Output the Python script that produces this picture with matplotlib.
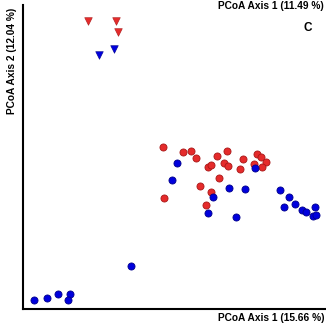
import matplotlib
matplotlib.use('Agg')
import matplotlib.pyplot as plt
import numpy as np

RED = '#E52B2B'; RED_EDGE = '#A81818'
BLUE = '#0000DD'; BLUE_EDGE = '#00008A'
plt.rcParams.update({'font.family': ['Liberation Sans', 'DejaVu Sans']})

# PCoA scores (axis 1, axis 2), arbitrary units
red_circ_x = [1.40, 1.60, 1.68, 1.73, 1.94, 2.04, 1.85, 1.88, 2.01, 2.05, 2.20, 2.17,
              2.34, 2.38, 2.43, 2.31, 2.39, 1.96, 1.77, 1.88, 1.41, 1.83]
red_circ_y = [1.62, 1.57, 1.58, 1.51, 1.53, 1.58, 1.42, 1.44, 1.46, 1.43, 1.50, 1.40,
              1.55, 1.52, 1.47, 1.45, 1.42, 1.31, 1.23, 1.17, 1.11, 1.04]
blue_circ_x = [1.54, 1.49, 2.32, 2.06, 2.22, 1.90, 1.85, 2.13, 2.57, 2.66, 2.72, 2.61,
               2.79, 2.83, 2.92, 2.90, 2.93, 0.11, 0.24, 0.35, 0.47, 0.45, 1.08]
blue_circ_y = [1.46, 1.29, 1.41, 1.21, 1.20, 1.12, 0.96, 0.92, 1.19, 1.12, 1.05, 1.02,
               0.99, 0.97, 1.02, 0.93, 0.94, 0.09, 0.11, 0.15, 0.15, 0.09, 0.43]
red_tri_x = [0.65, 0.93, 0.95]
red_tri_y = [2.88, 2.88, 2.77]
blue_tri_x = [0.76, 0.91]
blue_tri_y = [2.54, 2.60]

fig = plt.figure(figsize=(3.26, 3.26), dpi=100)
ax = fig.add_axes([0.0706, 0.052, 0.929, 0.933])

ax.scatter(red_circ_x, red_circ_y, s=26, c=RED, edgecolors=RED_EDGE, linewidths=0.6, zorder=3)
ax.scatter(blue_circ_x, blue_circ_y, s=26, c=BLUE, edgecolors=BLUE_EDGE, linewidths=0.6, zorder=3)
ax.scatter(red_tri_x, red_tri_y, s=30, marker='v', c=RED, edgecolors=RED_EDGE, linewidths=0.4, zorder=3)
ax.scatter(blue_tri_x, blue_tri_y, s=30, marker='v', c=BLUE, edgecolors=BLUE_EDGE, linewidths=0.4, zorder=3)

ax.set_xlim(0, 3.03); ax.set_ylim(0, 3.04)
ax.set_xticks([]); ax.set_yticks([])
for s in ['top', 'right']: ax.spines[s].set_visible(False)
for s in ['left', 'bottom']: ax.spines[s].set_linewidth(1.5)

fig.text(0.994, 0.025, 'PCoA Axis 1 (15.66 %)', ha='right', va='center', fontsize=7.3, fontweight='bold')
fig.text(0.994, 0.982, 'PCoA Axis 1 (11.49 %)', ha='right', va='center', fontsize=7.3, fontweight='bold')
fig.text(0.945, 0.913, 'C', ha='center', va='center', fontsize=8.5, fontweight='bold')
fig.text(0.037, 0.975, 'PCoA Axis 2 (12.04 %)', ha='center', va='top', rotation=90, fontsize=7.3, fontweight='bold')

plt.savefig('out.png', dpi=100, facecolor='white')
